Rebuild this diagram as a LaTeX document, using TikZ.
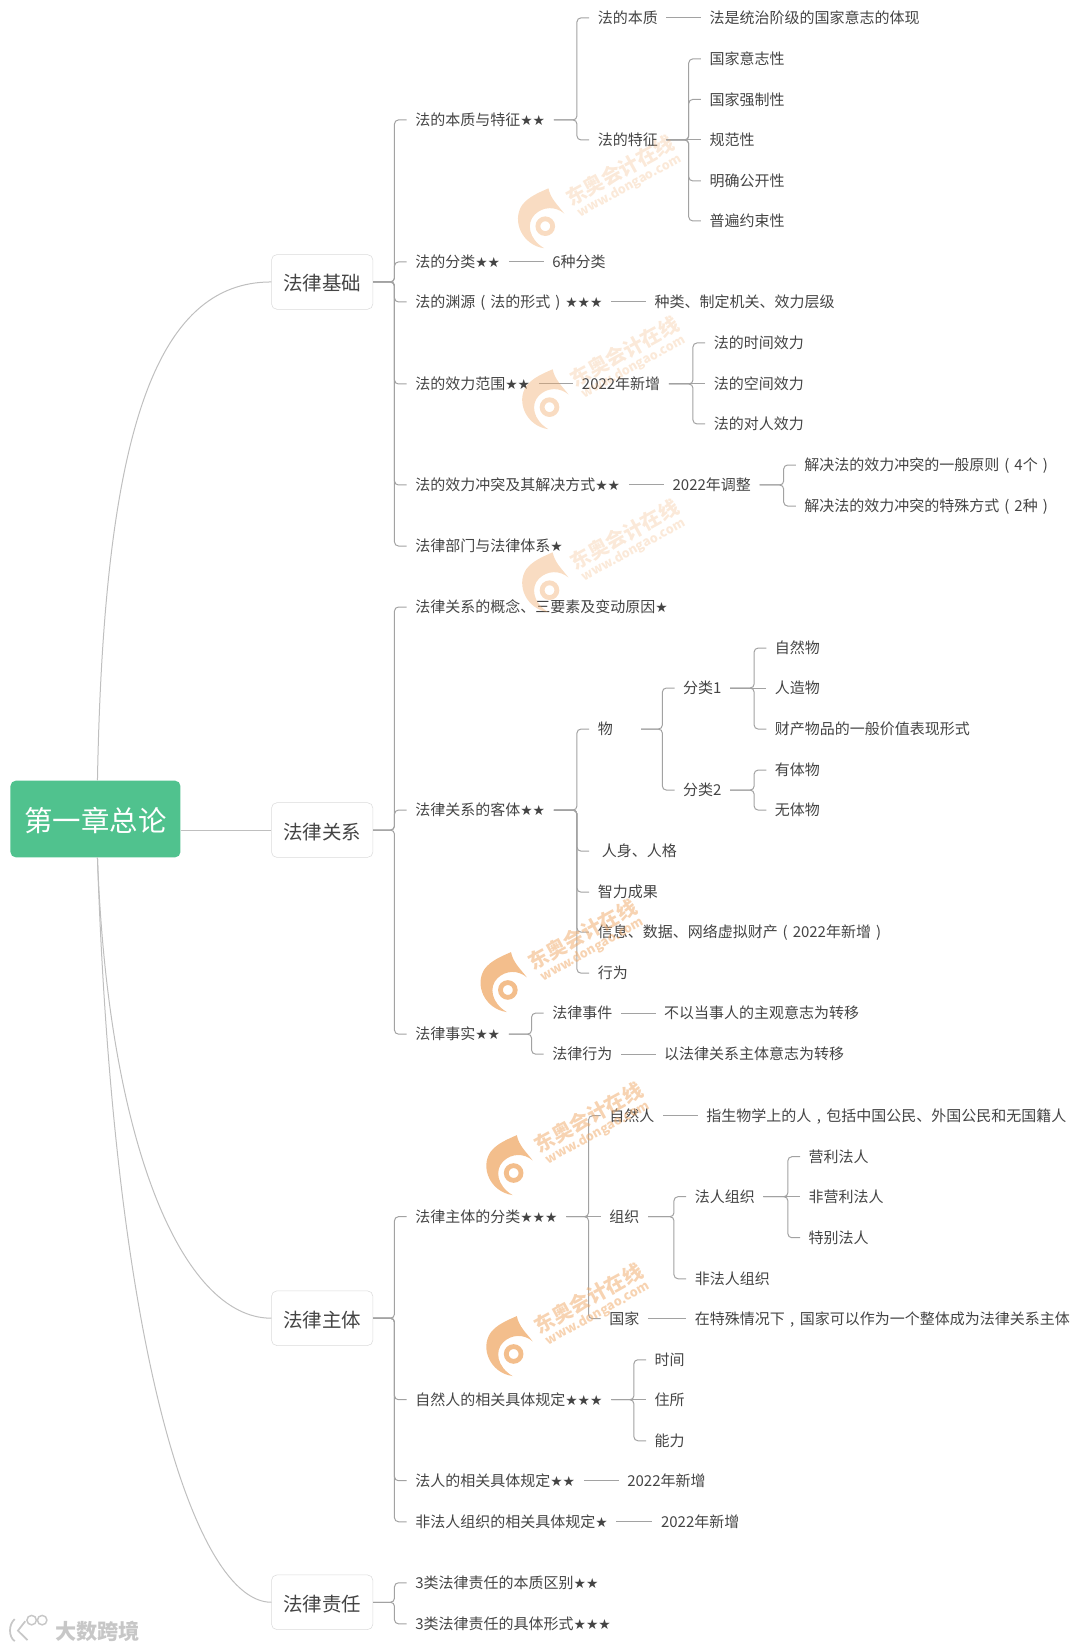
\documentclass[tikz,border=0pt]{standalone}
\usepackage{fontspec}
\setmainfont{Noto Sans CJK SC}
\newfontfamily\starfont{DejaVu Sans}
\newcommand{\xing}[1]{{\starfont\fontsize{10.4}{12}\selectfont #1}}
\newcommand{\lkuo}{\makebox[11.25pt][c]{(}}
\newcommand{\rkuo}{\makebox[11.25pt][c]{)}}
\newcommand{\dou}{\makebox[11.25pt][c]{,}}
\definecolor{rootgreen}{HTML}{50C28E}
\definecolor{wenzi}{HTML}{444444}
\definecolor{xiancolor}{HTML}{A2A2A2}
\definecolor{shuiyincolor}{HTML}{EFA866}
\newcommand{\shuiyin}[5]{
	\begin{scope}[shift={(#2,#3)}]
		\begin{scope}[opacity=#4]
			\fill[shuiyincolor] (-1,21) .. controls (-22,18) and (-32,-5) .. (-22,-20) .. controls (-16,-28) and (-6,-32) .. (3,-36) .. controls (5,-26) and (12,-20) .. (18,-12) .. controls (10,-19) and (-2,-19) .. (-10,-11) .. controls (-18,-3) and (-16,12) .. (-1,21);
			\draw[shuiyincolor,line width=3.6pt] (0,0) circle (7);
		\end{scope}
		\node[rotate=29,opacity=#5,text=shuiyincolor,font=\fontsize{15}{16}\selectfont\bfseries,inner sep=0pt] (#1a) at (71,-53) {东奥会计在线};
		\node[rotate=29,opacity=#5,text=shuiyincolor,font=\fontsize{9.5}{10}\selectfont\bfseries,inner sep=0pt] (#1b) at (80,-38) {www.dongao.com};
	\end{scope}
}
\begin{document}
\begin{tikzpicture}[x=0.791pt,y=-0.789pt]
	\tikzstyle{txt}=[anchor=west,xshift=-6.7pt,inner xsep=6.3pt,inner ysep=0pt,text height=9.9pt,text depth=1.35pt,text=wenzi,font=\fontsize{11.25}{13}\selectfont]
	\tikzstyle{topic}=[draw=black!14,fill=white,rounded corners=4pt,minimum width=76pt,minimum height=41pt,inner sep=0pt,text height=15.25pt,text depth=1.75pt,text=wenzi,font=\fontsize{14.6}{16}\selectfont]
	\tikzstyle{xian}=[draw=xiancolor,line width=0.75pt]
	\tikzstyle{quxian}=[draw=black!25,line width=0.75pt]
	\tikzstyle{fork}=[rounded corners=3pt,to path={(\tikztotarget.west) -- ++(-9.1pt,0) |- (\tikztostart.east)}]
	\useasboundingbox (0,-1) rectangle (1024,1567.4);

	\node[fill=rootgreen,rounded corners=4pt,minimum width=127.5pt,minimum height=57.5pt,inner sep=0pt,text height=21.9pt,text depth=2.6pt,text=white,font=\fontsize{21.3}{24}\selectfont] (root) at (90.5,777.5) {第一章总论};
	\node[topic] (jichu) at (305.5,267) {法律基础};
	\node[topic] (guanxi) at (305.5,788) {法律关系};
	\node[topic] (zhuti) at (305.5,1252) {法律主体};
	\node[topic] (zeren) at (305.5,1522) {法律责任};

	\node[txt] (benzhitezheng) at (394,113) {法的本质与特征\xing{★★}};
	\node[txt] (benzhi) at (567,16) {法的本质};
	\node[txt] (benzhi1) at (673,16) {法是统治阶级的国家意志的体现};
	\node[txt] (tezheng) at (567,132) {法的特征};
	\node[txt] (tz1) at (673,55) {国家意志性};
	\node[txt] (tz2) at (673,93.5) {国家强制性};
	\node[txt] (tz3) at (673,132) {规范性};
	\node[txt] (tz4) at (673,171) {明确公开性};
	\node[txt] (tz5) at (673,209) {普遍约束性};
	\node[txt] (fenlei) at (394,248) {法的分类\xing{★★}};
	\node[txt] (fenlei1) at (524,248) {6种分类};
	\node[txt] (yuanyuan) at (394,286) {法的渊源\lkuo 法的形式\rkuo\xing{★★★}};
	\node[txt] (yuanyuan1) at (621,286) {种类、制定机关、效力层级};
	\node[txt] (fanwei) at (394,364) {法的效力范围\xing{★★}};
	\node[txt] (fanwei1) at (552,364) {2022年新增};
	\node[txt] (fw1) at (677,325) {法的时间效力};
	\node[txt] (fw2) at (677,364) {法的空间效力};
	\node[txt] (fw3) at (677,402) {法的对人效力};
	\node[txt] (chongtu) at (394,460) {法的效力冲突及其解决方式\xing{★★}};
	\node[txt] (chongtu1) at (638,460) {2022年调整};
	\node[txt] (ct1) at (763,441) {解决法的效力冲突的一般原则\lkuo 4个\rkuo};
	\node[txt] (ct2) at (763,480) {解决法的效力冲突的特殊方式\lkuo 2种\rkuo};
	\node[txt] (bumen) at (394,518) {法律部门与法律体系\xing{★}};

	\node[txt] (gainian) at (394,576) {法律关系的概念、三要素及变动原因\xing{★}};
	\node[txt] (keti) at (394,769) {法律关系的客体\xing{★★}};
	\node[txt] (wu) at (567,692) {\makebox[26pt][l]{物}};
	\node[txt] (fl1) at (648,653) {分类1};
	\node[txt] (fl2) at (648,750) {分类2};
	\node[txt] (wu1) at (735,615) {自然物};
	\node[txt] (wu2) at (735,653) {人造物};
	\node[txt] (wu3) at (735,692) {财产物品的一般价值表现形式};
	\node[txt] (wu4) at (735,731) {有体物};
	\node[txt] (wu5) at (735,769) {无体物};
	\node[txt] (renshen) at (567,808) {\hspace*{3pt}人身、人格};
	\node[txt] (zhili) at (567,847) {智力成果};
	\node[txt] (xinxi) at (567,885) {信息、数据、网络虚拟财产\lkuo 2022年新增\rkuo};
	\node[txt] (xingwei) at (567,924) {行为};
	\node[txt] (shishi) at (394,982) {法律事实\xing{★★}};
	\node[txt] (shijian) at (524,962) {法律事件};
	\node[txt] (shijian1) at (630,962) {不以当事人的主观意志为转移};
	\node[txt] (xingwei2) at (524,1001) {法律行为};
	\node[txt] (xingwei3) at (630,1001) {以法律关系主体意志为转移};

	\node[txt] (ztfenlei) at (394,1155.5) {法律主体的分类\xing{★★★}};
	\node[txt] (ziran) at (578,1059.5) {自然人};
	\node[txt] (ziran1) at (670,1059.5) {指生物学上的人\dou 包括中国公民、外国公民和无国籍人};
	\node[txt] (zuzhi) at (578,1155.5) {组织};
	\node[txt] (faren) at (659,1136.5) {法人组织};
	\node[txt] (fr1) at (767,1098.5) {营利法人};
	\node[txt] (fr2) at (767,1136.5) {非营利法人};
	\node[txt] (fr3) at (767,1175.5) {特别法人};
	\node[txt] (feifaren) at (659,1214.5) {非法人组织};
	\node[txt] (guojia) at (578,1252.5) {国家};
	\node[txt] (guojia1) at (659,1252.5) {在特殊情况下\dou 国家可以作为一个整体成为法律关系主体};
	\node[txt] (zrr) at (394,1329.5) {自然人的相关具体规定\xing{★★★}};
	\node[txt] (zrr1) at (621,1291.5) {时间};
	\node[txt] (zrr2) at (621,1329.5) {住所};
	\node[txt] (zrr3) at (621,1368.5) {能力};
	\node[txt] (frgd) at (394,1406.5) {法人的相关具体规定\xing{★★}};
	\node[txt] (frgd1) at (595,1406.5) {2022年新增};
	\node[txt] (ffr) at (394,1445.5) {非法人组织的相关具体规定\xing{★}};
	\node[txt] (ffr1) at (627,1445.5) {2022年新增};

	\node[txt] (zr1) at (394,1503.5) {3类法律责任的本质区别\xing{★★}};
	\node[txt] (zr2) at (394,1542.5) {3类法律责任的具体形式\xing{★★★}};

	\draw[quxian] ([xshift=1.5pt]root.north) .. controls +(6,-330) and +(-110,0) .. (jichu.west);
	\draw[quxian] (guanxi.west -| root.east) -- (guanxi.west);
	\draw[quxian] ([xshift=1.5pt]root.south) .. controls +(10,270) and +(-85,0) .. (zhuti.west);
	\draw[quxian] ([xshift=1.5pt]root.south) .. controls +(16,480) and +(-70,0) .. (zeren.west);

	\foreach \a/\b in {jichu/benzhitezheng,jichu/fenlei,jichu/yuanyuan,jichu/fanwei,jichu/chongtu,jichu/bumen,
		benzhitezheng/benzhi,benzhitezheng/tezheng,tezheng/tz1,tezheng/tz2,tezheng/tz4,tezheng/tz5,
		fanwei1/fw1,fanwei1/fw3,chongtu1/ct1,chongtu1/ct2,
		guanxi/gainian,guanxi/keti,guanxi/shishi,
		keti/wu,keti/renshen,keti/zhili,keti/xinxi,keti/xingwei,wu/fl1,wu/fl2,
		fl1/wu1,fl1/wu3,fl2/wu4,fl2/wu5,shishi/shijian,shishi/xingwei2,
		zhuti/ztfenlei,zhuti/zrr,zhuti/frgd,zhuti/ffr,
		ztfenlei/ziran,ztfenlei/guojia,zuzhi/faren,zuzhi/feifaren,
		faren/fr1,faren/fr3,zrr/zrr1,zrr/zrr3,zeren/zr1,zeren/zr2}
		\draw[xian] (\a) to[fork] (\b);
	\foreach \a/\b in {benzhi/benzhi1,tezheng/tz3,fenlei/fenlei1,yuanyuan/yuanyuan1,fanwei/fanwei1,fanwei1/fw2,
		chongtu/chongtu1,fl1/wu2,shijian/shijian1,xingwei2/xingwei3,ztfenlei/zuzhi,ziran/ziran1,
		faren/fr2,guojia/guojia1,zrr/zrr2,frgd/frgd1,ffr/ffr1}
		\draw[xian] (\a.east) -- (\b.west);

	\shuiyin{syA}{517}{214}{0.4}{0.25}
	\shuiyin{syB}{521}{386}{0.4}{0.25}
	\shuiyin{syC}{521}{560}{0.4}{0.25}
	\shuiyin{syD}{481.5}{940}{0.75}{0.5}
	\shuiyin{syE}{487}{1114}{0.75}{0.5}
	\shuiyin{syF}{487}{1286}{0.75}{0.5}

	\node[inner sep=0pt,anchor=west,text=black!22,font=\fontsize{15.9}{18}\selectfont\bfseries] (dashu) at (52,1549.5) {大数跨境};
	\draw[black!22,line width=1.3pt] (14,1538) .. controls (8,1543) and (8,1555) .. (14,1559) (24,1540) -- (17,1549) -- (26,1558);
	\draw[black!22,line width=1.1pt] (30,1539) circle (4.5) (40,1539) circle (4.5);
\end{tikzpicture}
\end{document}
